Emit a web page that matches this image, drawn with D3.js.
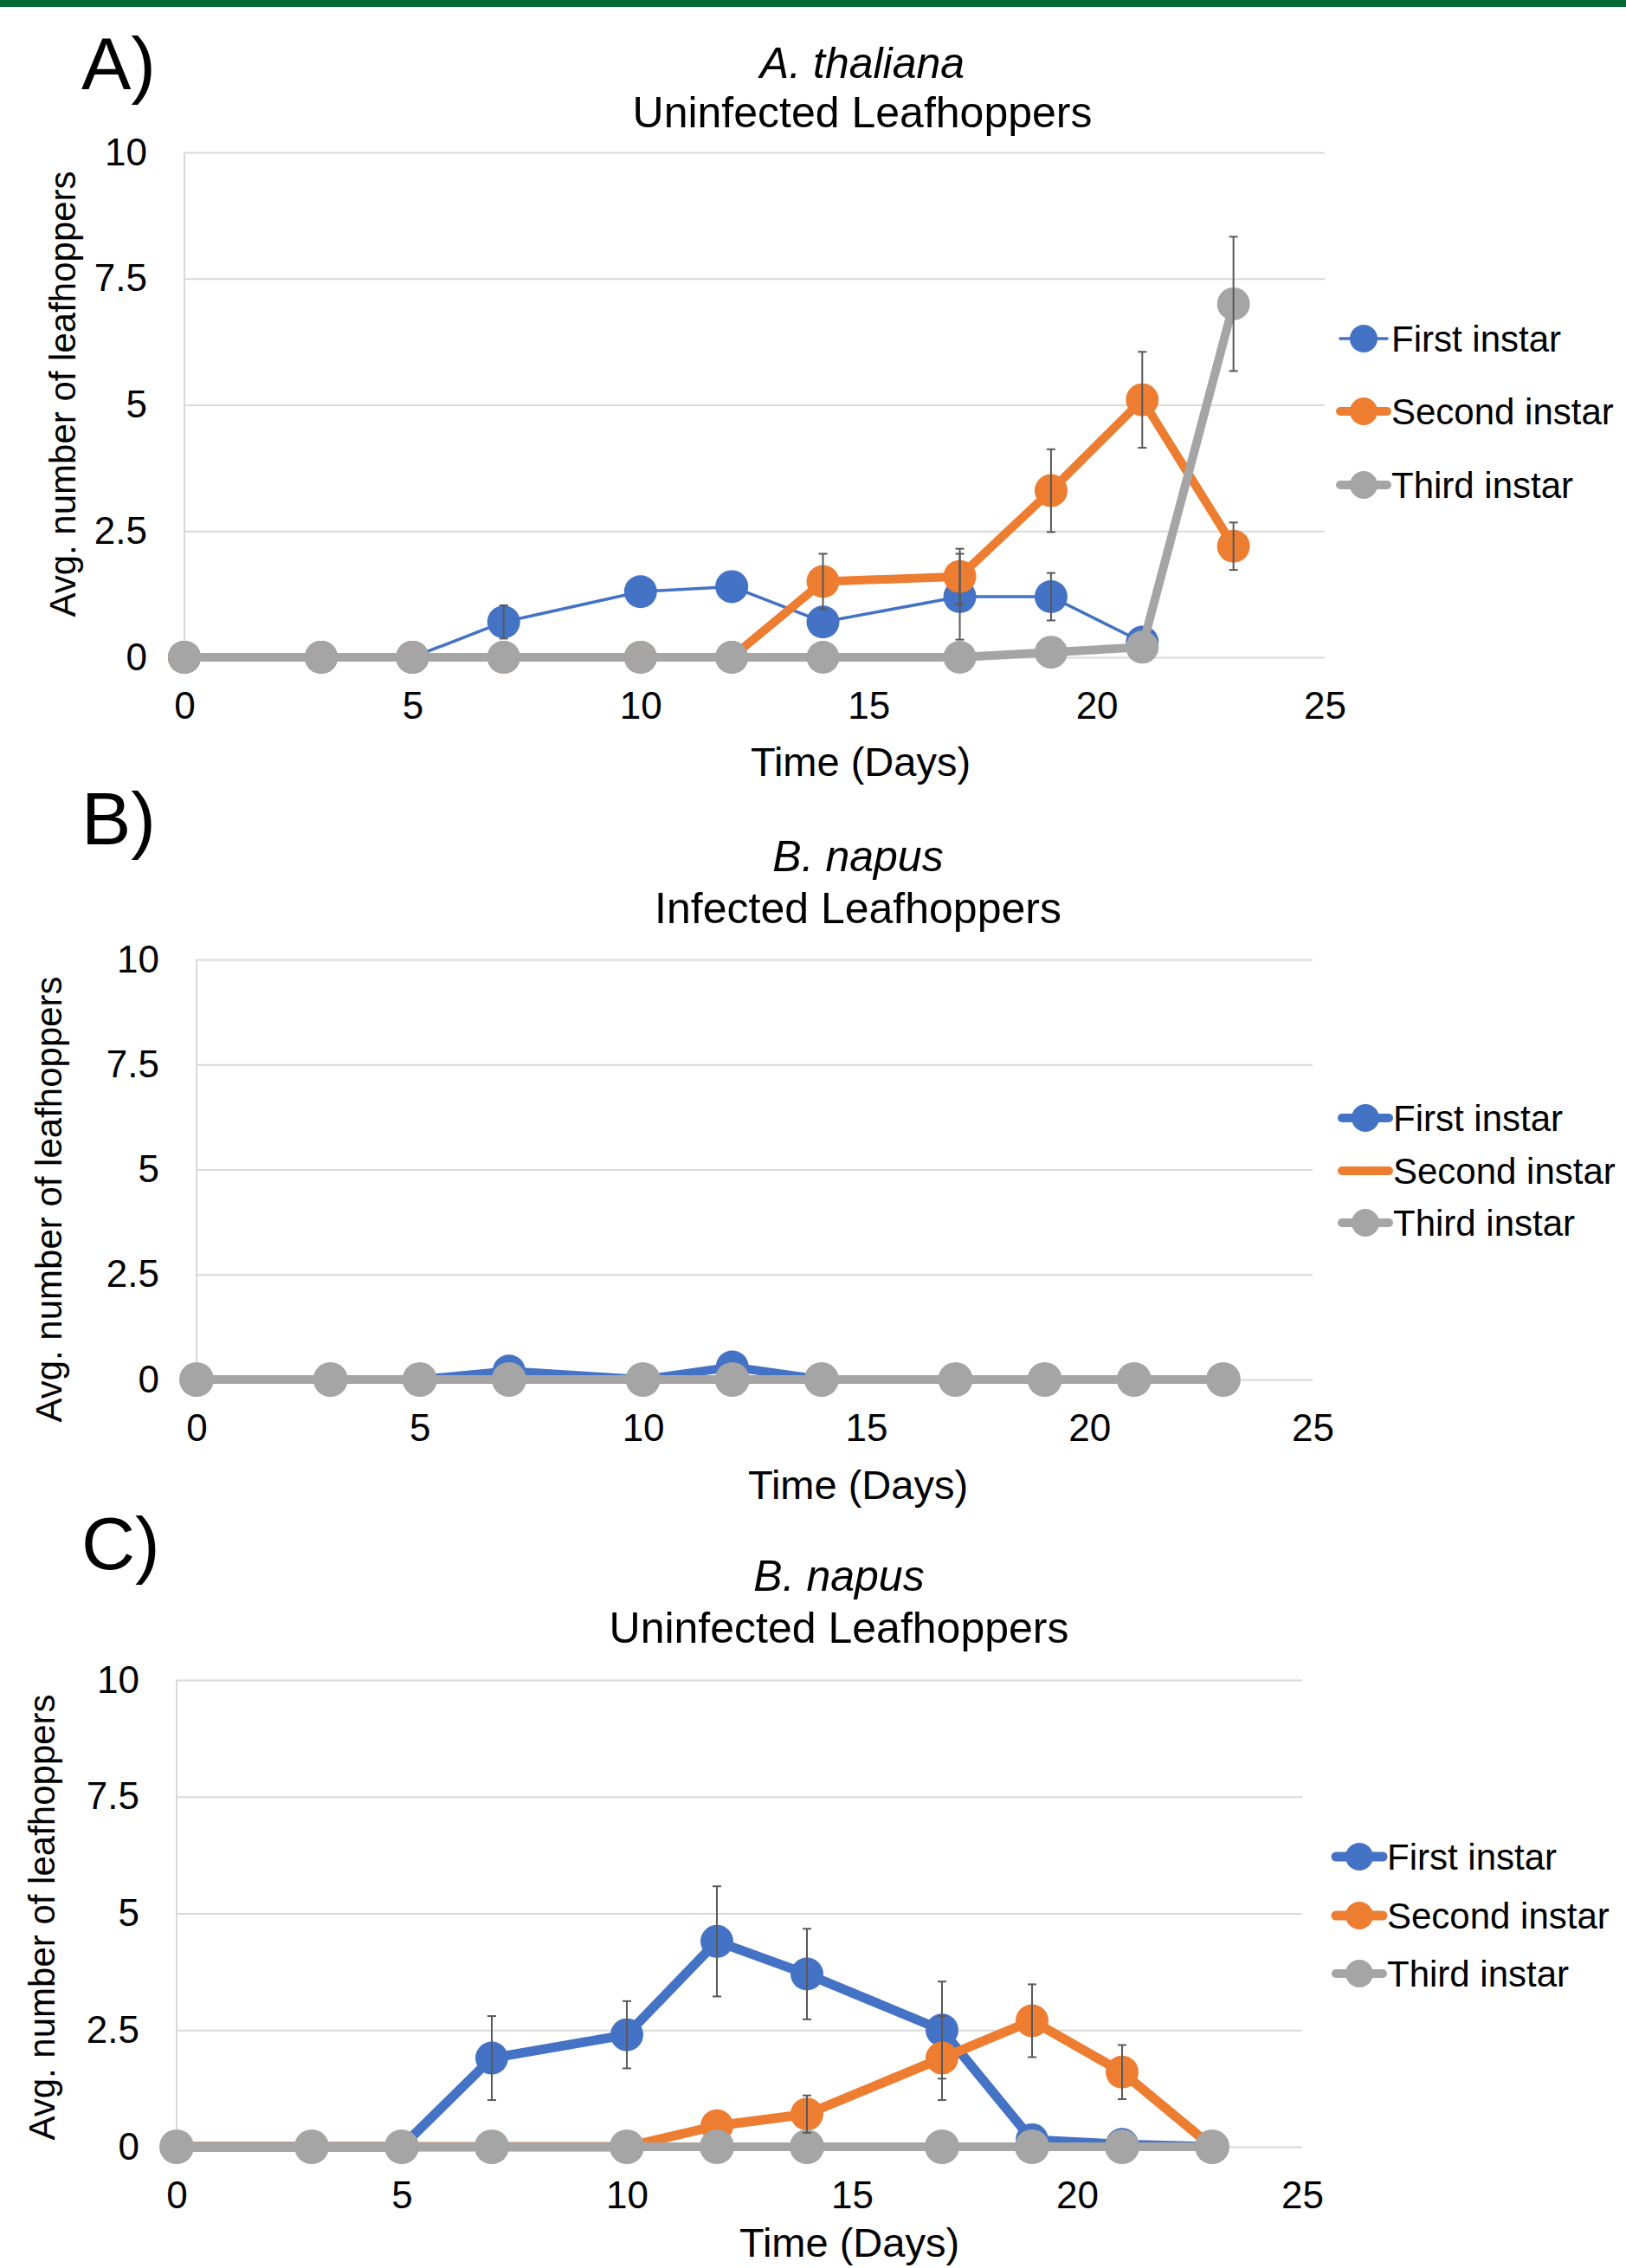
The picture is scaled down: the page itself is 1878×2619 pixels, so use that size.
<!DOCTYPE html>
<html>
<head>
<meta charset="utf-8">
<title>Leafhopper instars over time</title>
<script src="https://cdn.jsdelivr.net/npm/d3@7"></script>
<style>
  body { margin: 0; background: #fff; }
  svg text { font-family: "Liberation Sans", Arial, sans-serif; fill: #000; }
</style>
</head>
<body>
<script>
// shared axes
var days = [0, 3, 5, 7, 10, 12, 14, 17, 19, 21, 23];
var seriesNames = ["First instar", "Second instar", "Third instar"];
var yTicks = [0, 2.5, 5, 7.5, 10];
var xTicks = [0, 5, 10, 15, 20, 25];

// A) A. thaliana, uninfected leafhoppers
var thalFirst  = [0, 0, 0, 0.7, 1.3, 1.4, 0.7, 1.2, 1.2, 0.3, null];
var thalSecond = [0, 0, 0, 0, 0, 0, 1.5, 1.6, 3.3, 5.1, 2.2];
var thalThird  = [0, 0, 0, 0, 0, 0, 0, 0, 0.1, 0.2, 7.0];
var thalFirstErr  = [null, null, null, 0.33, null, null, null, 0.85, 0.47, null, null];
var thalSecondErr = [null, null, null, null, null, null, 0.55, 0.55, 0.82, 0.95, 0.47];
var thalThirdErr  = [null, null, null, null, null, null, null, null, null, null, 1.33];

// B) B. napus, infected leafhoppers
var napInfFirst  = [0, 0, 0, 0.2, 0, 0.3, 0, 0, 0, 0, 0];
var napInfSecond = [0, 0, 0, 0, 0, 0, 0, 0, 0, 0, 0];
var napInfThird  = [0, 0, 0, 0, 0, 0, 0, 0, 0, 0, 0];

// C) B. napus, uninfected leafhoppers
var napFirst  = [0, 0, 0, 1.9, 2.4, 4.4, 3.7, 2.5, 0.15, 0.05, 0];
var napSecond = [0, 0, 0, 0, 0, 0.45, 0.7, 1.9, 2.7, 1.6, 0];
var napThird  = [0, 0, 0, 0, 0, 0, 0, 0, 0, 0, 0];
var napFirstErr  = [null, null, null, 0.9, 0.72, 1.18, 0.97, 1.04, null, null, null];
var napSecondErr = [null, null, null, null, null, null, 0.4, 0.9, 0.78, 0.58, null];
var noErr = days.map(function () { return null; });

var colors = ["#4472C4", "#ED7D31", "#A5A5A5"];

var panels = [
  {
    letter: "A)", species: "A. thaliana", group: "Uninfected Leafhoppers",
    values: [thalFirst, thalSecond, thalThird],
    errs: [thalFirstErr, thalSecondErr, thalThirdErr],
    widths: [3.5, 10, 10], radii: [19, 19, 19], legendR: [16, 16, 16],
    left: 213, right: 1530, top: 176, bottom: 759,
    titleX: 996, titleY: [73, 130], letterY: 103, xLabelX: 994, xLabelY: 879,
    yLabelX: 72, yLabelY: 455, legendX: 1575, legendY: [391, 475, 560]
  },
  {
    letter: "B)", species: "B. napus", group: "Infected Leafhoppers",
    values: [napInfFirst, napInfSecond, napInfThird],
    errs: [noErr, noErr, noErr],
    widths: [10, 10, 10], radii: [19, 4, 20], legendR: [16, 4, 16],
    left: 227, right: 1516, top: 1108, bottom: 1593,
    titleX: 991, titleY: [989, 1049], letterY: 975, xLabelX: 991, xLabelY: 1714,
    yLabelX: 56, yLabelY: 1385, legendX: 1577, legendY: [1291, 1352, 1412]
  },
  {
    letter: "C)", species: "B. napus", group: "Uninfected Leafhoppers",
    values: [napFirst, napSecond, napThird],
    errs: [napFirstErr, napSecondErr, noErr],
    widths: [11, 11, 10], radii: [19, 19, 20], legendR: [16, 16, 16],
    left: 204, right: 1504, top: 1940, bottom: 2479,
    titleX: 969, titleY: [1820, 1880], letterY: 1812, xLabelX: 981, xLabelY: 2589,
    yLabelX: 48, yLabelY: 2214, legendX: 1570, legendY: [2144, 2212, 2279]
  }
];

var W = 1878, H = 2619;
var svg = d3.select("body").append("svg")
    .attr("width", W)
    .attr("height", H);

svg.append("rect").attr("x", 0).attr("y", 0).attr("width", W).attr("height", H).attr("fill", "#fff");
svg.append("rect").attr("x", 0).attr("y", 0).attr("width", W).attr("height", 8).attr("fill", "#046A38");

function drawPanel(p) {
  var g = svg.append("g");
  var x = d3.scaleLinear().domain([0, 25]).range([p.left, p.right]);
  var y = d3.scaleLinear().domain([0, 10]).range([p.bottom, p.top]);

  // gridlines
  g.append("g")
      .attr("transform", "translate(" + p.left + ",0)")
      .call(d3.axisLeft(y).tickValues(yTicks).tickSize(-(p.right - p.left)).tickFormat(""))
      .call(function (s) {
        s.select(".domain").remove();
        s.selectAll("line").attr("stroke", "#D9D9D9").attr("stroke-width", 2);
      });
  g.append("line")
      .attr("x1", p.left).attr("x2", p.left)
      .attr("y1", p.top).attr("y2", p.bottom)
      .attr("stroke", "#D9D9D9").attr("stroke-width", 2);

  // tick labels
  g.append("g")
      .attr("transform", "translate(" + p.left + ",0)")
      .call(d3.axisLeft(y).tickValues(yTicks).tickSize(0).tickPadding(43).tickFormat(d3.format("")))
      .call(function (s) {
        s.select(".domain").remove();
        s.selectAll("text").attr("font-size", 44).attr("fill", "#000");
      });
  g.append("g")
      .attr("transform", "translate(0," + p.bottom + ")")
      .call(d3.axisBottom(x).tickValues(xTicks).tickSize(0).tickPadding(40))
      .call(function (s) {
        s.select(".domain").remove();
        s.selectAll("text").attr("font-size", 44).attr("fill", "#000");
      });

  // series lines
  p.values.forEach(function (vals, si) {
    var pts = days.map(function (d, i) { return {d: d, v: vals[i], e: p.errs[si][i]}; });
    var line = d3.line()
        .defined(function (q) { return q.v != null; })
        .x(function (q) { return x(q.d); })
        .y(function (q) { return y(q.v); });
    g.append("path")
        .datum(pts)
        .attr("d", line)
        .attr("fill", "none")
        .attr("stroke", colors[si])
        .attr("stroke-width", p.widths[si])
        .attr("stroke-linejoin", "round")
        .attr("stroke-linecap", "round");
    g.selectAll(null)
        .data(pts.filter(function (q) { return q.v != null; }))
        .enter().append("circle")
        .attr("cx", function (q) { return x(q.d); })
        .attr("cy", function (q) { return y(q.v); })
        .attr("r", p.radii[si])
        .attr("fill", colors[si]);
  });

  // error bars
  p.values.forEach(function (vals, si) {
    var pts = days.map(function (d, i) { return {d: d, v: vals[i], e: p.errs[si][i]}; })
        .filter(function (q) { return q.v != null && q.e != null; });
    var eb = g.selectAll(null).data(pts).enter().append("g")
        .attr("stroke", "#595959").attr("stroke-width", 2);
    eb.append("line")
        .attr("x1", function (q) { return x(q.d); }).attr("x2", function (q) { return x(q.d); })
        .attr("y1", function (q) { return y(q.v - q.e); }).attr("y2", function (q) { return y(q.v + q.e); });
    [-1, 1].forEach(function (sgn) {
      eb.append("line")
          .attr("x1", function (q) { return x(q.d) - 5; }).attr("x2", function (q) { return x(q.d) + 5; })
          .attr("y1", function (q) { return y(q.v + sgn * q.e); }).attr("y2", function (q) { return y(q.v + sgn * q.e); });
    });
  });

  // titles and labels
  g.append("text").attr("x", p.titleX).attr("y", p.titleY[0])
      .attr("text-anchor", "middle").attr("dominant-baseline", "central")
      .attr("font-size", 50).attr("font-style", "italic").text(p.species);
  g.append("text").attr("x", p.titleX).attr("y", p.titleY[1])
      .attr("text-anchor", "middle").attr("dominant-baseline", "central")
      .attr("font-size", 50).text(p.group);
  g.append("text").attr("x", 94).attr("y", p.letterY)
      .attr("font-size", 86).text(p.letter);
  g.append("text").attr("x", p.xLabelX).attr("y", p.xLabelY)
      .attr("text-anchor", "middle").attr("dominant-baseline", "central")
      .attr("font-size", 47).text("Time (Days)");
  g.append("text")
      .attr("transform", "translate(" + p.yLabelX + "," + p.yLabelY + ") rotate(-90)")
      .attr("text-anchor", "middle").attr("dominant-baseline", "central")
      .attr("font-size", 42).text("Avg. number of leafhoppers");

  // legend
  seriesNames.forEach(function (name, si) {
    var ly = p.legendY[si];
    var lg = g.append("g");
    lg.append("line")
        .attr("x1", p.legendX - 27).attr("x2", p.legendX + 27)
        .attr("y1", ly).attr("y2", ly)
        .attr("stroke", colors[si]).attr("stroke-width", p.widths[si])
        .attr("stroke-linecap", "round");
    lg.append("circle").attr("cx", p.legendX).attr("cy", ly)
        .attr("r", p.legendR[si]).attr("fill", colors[si]);
    lg.append("text").attr("x", p.legendX + 32).attr("y", ly)
        .attr("dominant-baseline", "central")
        .attr("font-size", 42).text(name);
  });
}

panels.forEach(drawPanel);
</script>
</body>
</html>
